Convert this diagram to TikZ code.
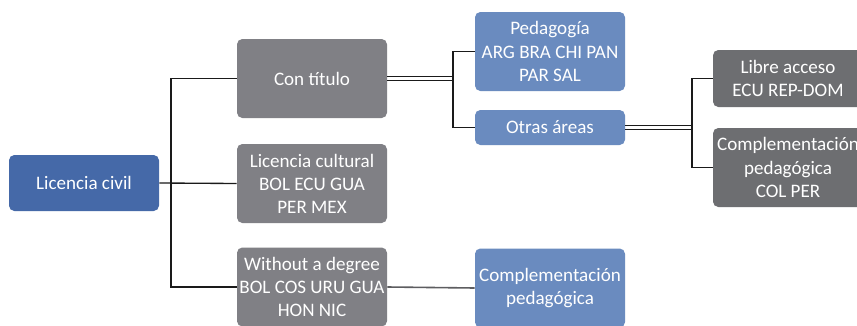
\documentclass[tikz,border=0pt]{standalone}
\usepackage{fontspec}
\setmainfont{Carlito}
\definecolor{bdark}{HTML}{4569A8}
\definecolor{blight}{HTML}{6A8BBF}
\definecolor{gmid}{HTML}{808085}
\definecolor{gdark}{HTML}{6D6E71}
\definecolor{lnc}{HTML}{1A1A1A}
\begin{document}
\begin{tikzpicture}[x=0.75pt,y=-0.75pt,
  box/.style={rounded corners=4pt,text=white,align=center,inner sep=0pt,
    minimum width=112.5pt,font=\fontsize{14.3}{17.3}\selectfont},
  tall/.style={minimum height=59.25pt},
  conn/.style={draw=lnc,line width=1pt},
  dline/.style={draw=lnc,line width=0.9pt}]
\clip (0,0) rectangle (857,325);
\fill[white] (0,0) rectangle (857,325);
\node[box,fill=bdark,minimum height=42pt] (lc) at (84,183) {Licencia civil};
\node[box,fill=gmid,tall] (ct) at (312,78.5) {Con título};
\node[box,fill=gmid,tall] (lcu) at (312,183.5) {Licencia cultural\\BOL ECU GUA\\PER MEX};
\node[box,fill=gmid,tall] (wd) at (312,287) {Without a degree\\BOL COS URU GUA\\HON NIC};
\node[box,fill=blight,tall] (ped) at (550,51.5) {Pedagogía\\ARG BRA CHI PAN\\PAR SAL};
\node[box,fill=blight,minimum height=26.25pt] (oa) at (550,127.5) {Otras áreas};
\node[box,fill=blight,tall] (cp) at (550,288) {Complementación\\pedagógica};
\node[box,fill=gdark,minimum height=42.75pt] (la) at (788,78.5) {Libre acceso\\ECU REP-DOM};
\node[box,fill=gdark,tall] (cpc) at (788,167.5) {Complementación\\pedagógica\\COL PER};
\coordinate (j1) at (171,183);
\coordinate (j2) at (453,78.5);
\coordinate (j3) at (692,127.5);
\draw[conn] (lc.east) -- (lcu.west);
\draw[conn] (ct.west) -| (j1) |- (wd.west);
\draw[dline] ([yshift=1.3pt]ct.east) -- ([yshift=1.3pt]ct.east -| j2);
\draw[dline] ([yshift=-1.3pt]ct.east) -- ([yshift=-1.3pt]ct.east -| j2);
\draw[conn] (ped.west) -| (j2) |- (oa.west);
\draw[dline] ([yshift=1.3pt]oa.east) -- ([yshift=1.3pt]oa.east -| j3);
\draw[dline] ([yshift=-1.3pt]oa.east) -- ([yshift=-1.3pt]oa.east -| j3);
\draw[conn] (la.west) -| (j3) |- (cpc.west);
\draw[draw=gdark!85!black,line width=1.2pt] (wd.east) -- (cp.west);
\end{tikzpicture}
\end{document}
